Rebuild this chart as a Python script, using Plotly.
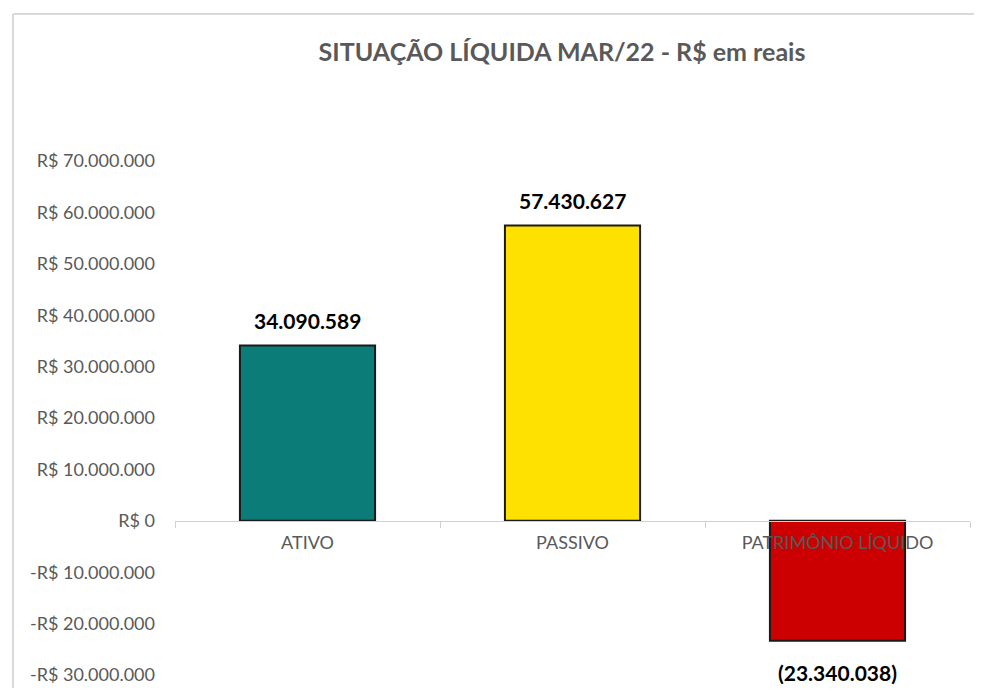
"""Situação líquida MAR/22 - bar chart."""

import plotly.graph_objects as go

CATEGORIES = ["ATIVO", "PASSIVO", "PATRIMÔNIO LÍQUIDO"]
VALUES = [34090589, 57430627, -23340038]
BAR_COLORS = ["#0B7C78", "#FFE100", "#CC0000"]

Y_TICK_VALUES = [70e6, 60e6, 50e6, 40e6, 30e6, 20e6, 10e6, 0, -10e6, -20e6, -30e6]
Y_TICK_TEXT = [
    "R$ 70.000.000", "R$ 60.000.000", "R$ 50.000.000", "R$ 40.000.000",
    "R$ 30.000.000", "R$ 20.000.000", "R$ 10.000.000", "R$ 0",
    "-R$ 10.000.000", "-R$ 20.000.000", "-R$ 30.000.000",
]
Y_MIN, Y_MAX = -30e6, 70e6


def _br_label(value: float) -> str:
    text = f"{abs(value):,.0f}".replace(",", ".")
    return f"({text})" if value < 0 else text


FONT = "Lato, 'Open Sans', sans-serif"
GREY = "#595959"

fig = go.Figure(
    go.Bar(
        x=CATEGORIES,
        y=VALUES,
        width=0.51,
        marker=dict(color=BAR_COLORS, line=dict(color="#1a1a1a", width=2)),
        hoverinfo="skip",
    )
)

# value labels above / below each bar
for category, value in zip(CATEGORIES, VALUES):
    fig.add_annotation(
        x=category,
        y=value,
        text=f"<b>{_br_label(value)}</b>",
        showarrow=False,
        yanchor="bottom" if value >= 0 else "top",
        yshift=11 if value >= 0 else -17,
        font=dict(family=FONT, size=21, color="#000000"),
    )

# page body has an 8px margin, so the figure is sized and placed to compensate
fig.update_layout(
    width=966,
    height=680,
    margin=dict(l=167, r=4, t=153, b=13),
    paper_bgcolor="white",
    plot_bgcolor="white",
    showlegend=False,
    title=dict(
        text="<b>SITUAÇÃO LÍQUIDA MAR/22 - R$ em reais</b>",
        font=dict(family=FONT, size=25, color=GREY),
        x=(562 - 8) / 966,
        xanchor="center",
        xref="container",
        y=1 - (52 - 8) / 680,
        yanchor="middle",
        yref="container",
    ),
    xaxis=dict(
        range=[-0.5, 2.5],
        anchor="free",
        position=(0 - Y_MIN) / (Y_MAX - Y_MIN),
        showline=True,
        linecolor="#d0d0d0",
        linewidth=1,
        ticks="outside",
        tickson="boundaries",
        ticklen=6,
        tickcolor="#d0d0d0",
        showgrid=False,
        ticklabelstandoff=6,
        tickfont=dict(family=FONT, size=18, color=GREY),
        layer="above traces",
    ),
    yaxis=dict(
        range=[Y_MIN, Y_MAX],
        tickvals=Y_TICK_VALUES,
        ticktext=Y_TICK_TEXT,
        showgrid=False,
        zeroline=False,
        showline=False,
        ticks="",
        ticklabelstandoff=19,
        tickfont=dict(family=FONT, size=18, color=GREY),
    ),
)

# light chart frame: only the left and top edges are in view
frame_left = (13 - 175) / 795
frame_top = (675 - 14) / 514
frame_line = dict(color="#d9d9d9", width=2)
fig.add_shape(type="line", xref="paper", yref="paper",
              x0=frame_left, x1=frame_left, y0=-0.3, y1=frame_top,
              line=frame_line, layer="below")
fig.add_shape(type="line", xref="paper", yref="paper",
              x0=frame_left, x1=1.3, y0=frame_top, y1=frame_top,
              line=frame_line, layer="below")

fig.write_html("out.html")
